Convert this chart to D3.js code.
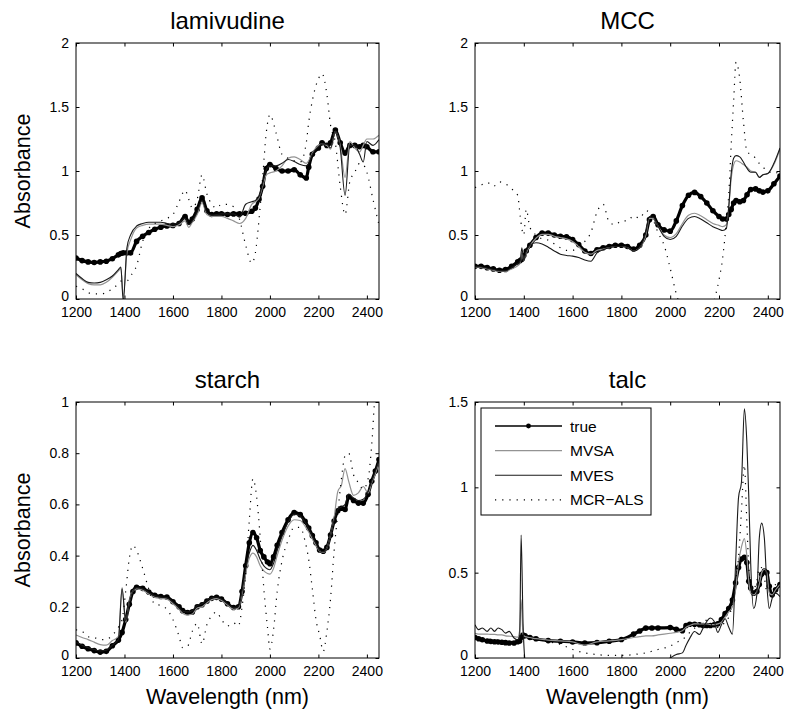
<!DOCTYPE html>
<html lang="en">
<head>
<meta charset="utf-8">
<title>spectra</title>
<script src="https://d3js.org/d3.v7.min.js"></script>
<style>
  * { margin:0; padding:0; }
  body { background:#fff; }
  svg { display:block; font-family:"Liberation Sans", Arial, Helvetica, sans-serif; }
</style>
</head>
<body>
<div id="fig"></div>
<script>
// ---- data ----
var xDomain = [1200, 2450];
var xTickVals = [1200,1400,1600,1800,2000,2200,2400];
var seriesNames = ["true","MVSA","MVES","MCR\u2212ALS"];

// lamivudine
var lamWl = [1200,1225,1250,1275,1300,1325,1350,1375,1385,1395,1410,1425,1450,1475,1500,1525,1550,1575,1600,1625,1650,1665,1680,1700,1720,1740,1760,1780,1800,1825,1850,1875,1900,1925,1940,1955,1970,1985,2000,2025,2050,2075,2100,2125,2150,2160,2175,2200,2215,2235,2250,2270,2290,2310,2330,2350,2370,2385,2400,2425,2450];
var lamTrue = [0.32,0.30,0.29,0.285,0.29, 0.295,0.315,0.345,0.355,0.36, 0.36,0.36,0.45,0.49,0.52, 0.545,0.56,0.57,0.575,0.59, 0.645,0.60,0.625,0.70,0.79, 0.69,0.66,0.665,0.665,0.66, 0.665,0.665,0.67,0.685,0.71, 0.78,0.88,1.02,1.05,1.02, 1.0,1.0,1.01,0.97,0.945, 1.03,1.13,1.18,1.22,1.2, 1.22,1.32,1.22,1.14,1.2, 1.2,1.19,1.2,1.19,1.15, 1.15];
var lamMVSA = [0.19,0.15,0.12,0.11,0.11, 0.13,0.17,0.22,0.24,0.02, 0.36,0.46,0.555,0.575,0.585, 0.585,0.585,0.575,0.565,0.58, 0.61,0.56,0.6,0.66,0.75, 0.66,0.645,0.645,0.645,0.63, 0.61,0.59,0.63,0.74,0.76, 0.79,0.88,0.97,0.985,1.0, 1.04,1.1,1.11,1.09,1.06, 1.08,1.14,1.2,1.21,1.2, 1.17,1.31,1.2,0.95,1.23, 1.18,1.15,1.2,1.25,1.25, 1.28];
var lamMVES = [0.2,0.16,0.13,0.125,0.13, 0.15,0.18,0.23,0.25,-0.02, 0.4,0.5,0.57,0.59,0.6, 0.6,0.6,0.59,0.585,0.595, 0.63,0.58,0.61,0.68,0.77, 0.675,0.655,0.66,0.665,0.665, 0.665,0.64,0.74,0.76,0.77, 0.8,0.9,1.01,1.04,1.04, 1.06,1.09,1.075,1.05,1.04, 1.06,1.13,1.19,1.21,1.21, 1.18,1.31,1.18,0.81,1.2, 1.2,1.13,1.07,1.23,1.2, 1.245];
var lamMCR = [0.1,0.08,0.05,0.04,0.04, 0.05,0.08,0.12,0.14,0.14, 0.14,0.18,0.26,0.45,0.55, 0.59,0.61,0.63,0.66,0.76, 0.85,0.78,0.71,0.78,0.97, 0.82,0.74,0.71,0.74,0.74, 0.72,0.62,0.42,0.28,0.36, 0.62,0.95,1.3,1.44,1.3, 1.13,1.1,1.08,1.07,1.22, 1.38,1.55,1.72,1.76,1.6, 1.36,1.22,0.88,0.66,0.92, 0.99,1.06,1.05,0.99,0.78, 0.58];

// MCC
var mccWl = [1200,1225,1250,1275,1300,1325,1350,1375,1385,1392,1400,1410,1425,1450,1475,1500,1525,1550,1575,1600,1625,1650,1675,1700,1725,1750,1775,1800,1825,1850,1875,1900,1915,1930,1950,1975,2000,2025,2050,2075,2100,2125,2150,2175,2200,2215,2230,2240,2250,2260,2270,2285,2300,2315,2330,2350,2365,2380,2400,2425,2450];
var mccTrue = [0.255,0.255,0.245,0.235,0.225, 0.23,0.255,0.29,0.3,0.31, 0.34,0.375,0.42,0.48,0.515, 0.515,0.5,0.49,0.485,0.465, 0.425,0.375,0.355,0.385,0.4, 0.41,0.42,0.42,0.41,0.39, 0.42,0.5,0.62,0.645,0.58, 0.54,0.53,0.61,0.73,0.81, 0.833,0.8,0.75,0.69,0.645, 0.625,0.625,0.66,0.7,0.75, 0.77,0.76,0.77,0.815,0.855, 0.86,0.845,0.835,0.845,0.9, 0.96];
var mccMVSA = [0.25,0.245,0.235,0.225,0.215, 0.215,0.235,0.26,0.28,0.36, 0.3,0.36,0.415,0.475,0.505, 0.505,0.49,0.48,0.47,0.45, 0.41,0.365,0.35,0.38,0.39, 0.4,0.41,0.41,0.4,0.375, 0.4,0.5,0.63,0.63,0.57, 0.5,0.48,0.51,0.59,0.655, 0.67,0.65,0.62,0.59,0.575, 0.565,0.58,0.72,0.94,1.05, 1.08,1.07,1.05,1.03,1.0, 0.99,0.95,0.97,0.98,1.05, 1.17];
var mccMVES = [0.255,0.25,0.24,0.23,0.22, 0.22,0.245,0.275,0.29,0.4, 0.3,0.37,0.42,0.44,0.43, 0.405,0.375,0.35,0.34,0.335, 0.325,0.305,0.295,0.36,0.385, 0.4,0.41,0.41,0.4,0.375, 0.4,0.52,0.645,0.64,0.57, 0.49,0.465,0.49,0.57,0.63, 0.645,0.625,0.595,0.565,0.545, 0.535,0.55,0.72,0.98,1.1, 1.12,1.11,1.07,1.02,0.99, 0.99,0.95,0.97,0.98,1.06, 1.18];
var mccMCR = [0.87,0.89,0.91,0.88,0.915, 0.9,0.86,0.81,0.65,0.55, 0.5,0.7,0.56,0.5,0.47, 0.46,0.43,0.4,0.38,0.38, 0.42,0.45,0.52,0.68,0.74, 0.6,0.58,0.61,0.61,0.65, 0.63,0.69,0.68,0.62,0.52, 0.42,0.24,0.04,-0.1,-0.2, -0.25,-0.25,-0.2,-0.05,0.15, 0.32,0.6,0.82,1.2,1.55, 1.85,1.72,1.39,1.15,1.13, 1.1,1.06,1.03,1.0,0.98, 1.0];

// starch
var stWl = [1200,1225,1250,1275,1300,1325,1350,1375,1390,1405,1420,1435,1450,1475,1500,1525,1550,1575,1600,1625,1640,1660,1680,1700,1720,1740,1760,1780,1800,1825,1850,1870,1885,1900,1915,1930,1945,1960,1975,1990,2000,2015,2030,2050,2075,2100,2125,2145,2160,2175,2190,2205,2220,2235,2250,2265,2280,2295,2310,2325,2345,2365,2385,2405,2420,2435,2450];
var stTrue = [0.059,0.046,0.036,0.029,0.023, 0.026,0.048,0.07,0.1,0.15, 0.21,0.26,0.276,0.272,0.258, 0.245,0.24,0.238,0.22,0.2, 0.185,0.178,0.18,0.2,0.208, 0.222,0.233,0.237,0.23,0.212, 0.197,0.2,0.26,0.36,0.45, 0.49,0.47,0.42,0.395,0.375, 0.368,0.395,0.44,0.49,0.54, 0.568,0.56,0.534,0.508,0.478, 0.45,0.422,0.417,0.432,0.48, 0.535,0.575,0.585,0.58,0.63, 0.615,0.605,0.605,0.64,0.69, 0.73,0.775];
var stMVSA = [0.09,0.08,0.072,0.062,0.052, 0.05,0.068,0.085,0.275,0.14, 0.22,0.262,0.27,0.265,0.25, 0.237,0.233,0.23,0.212,0.19, 0.175,0.168,0.172,0.195,0.2, 0.215,0.228,0.232,0.225,0.207, 0.19,0.195,0.25,0.33,0.39, 0.41,0.395,0.36,0.34,0.33, 0.328,0.35,0.4,0.46,0.515, 0.54,0.537,0.515,0.492,0.465, 0.44,0.418,0.413,0.43,0.48, 0.55,0.65,0.675,0.74,0.69, 0.635,0.645,0.67,0.645,0.685, 0.72,0.765];
var stMVES = [0.062,0.05,0.04,0.033,0.028, 0.03,0.05,0.072,0.27,0.145, 0.215,0.262,0.275,0.27,0.256, 0.243,0.238,0.236,0.218,0.197, 0.183,0.18,0.185,0.205,0.212, 0.225,0.235,0.238,0.23,0.212, 0.197,0.2,0.26,0.35,0.41, 0.44,0.42,0.385,0.36,0.348, 0.345,0.37,0.42,0.475,0.53, 0.562,0.555,0.53,0.505,0.475, 0.448,0.42,0.415,0.43,0.48, 0.54,0.58,0.59,0.6,0.64, 0.625,0.615,0.62,0.65,0.69, 0.73,0.77];
var stMCR = [0.11,0.104,0.083,0.08,0.072, 0.072,0.09,0.12,0.15,0.26, 0.39,0.44,0.42,0.35,0.27, 0.21,0.205,0.19,0.15,0.085, 0.04,0.045,0.105,0.135,0.055, 0.13,0.165,0.18,0.15,0.125, 0.137,0.125,0.2,0.33,0.54, 0.7,0.63,0.47,0.27,0.12, 0.035,0.11,0.26,0.38,0.46, 0.51,0.51,0.456,0.385,0.27, 0.15,0.09,0.026,0.104,0.23, 0.42,0.565,0.7,0.79,0.8, 0.716,0.685,0.66,0.7,0.833, 1.05,1.15];

// talc
var taWl = [1200,1215,1230,1250,1265,1280,1295,1310,1325,1340,1360,1375,1383,1389,1397,1405,1425,1450,1500,1550,1600,1650,1700,1750,1800,1850,1875,1900,1925,1950,2000,2025,2050,2065,2080,2100,2120,2135,2150,2165,2180,2195,2210,2225,2240,2255,2268,2280,2292,2304,2314,2322,2330,2342,2355,2365,2375,2386,2396,2406,2418,2432,2450];
var taTrue = [0.12,0.113,0.107,0.1,0.097, 0.095,0.094,0.092,0.09,0.088, 0.088,0.095,0.1,0.12,0.135, 0.13,0.12,0.113,0.102,0.098, 0.094,0.088,0.09,0.098,0.108, 0.14,0.158,0.175,0.176,0.176, 0.178,0.168,0.16,0.19,0.198, 0.198,0.195,0.19,0.19,0.19, 0.195,0.2,0.225,0.26,0.29, 0.34,0.44,0.53,0.58,0.59, 0.56,0.45,0.41,0.38,0.39, 0.43,0.49,0.51,0.5,0.42, 0.37,0.4,0.43];
var taMVSA = [0.145,0.14,0.14,0.14,0.138, 0.138,0.135,0.135,0.13,0.128, 0.125,0.122,0.16,0.34,0.14, 0.125,0.12,0.113,0.105,0.1, 0.094,0.075,0.095,0.1,0.108, 0.12,0.125,0.13,0.13,0.135, 0.145,0.15,0.16,0.18,0.19, 0.2,0.2,0.2,0.2,0.195, 0.195,0.2,0.21,0.24,0.27, 0.3,0.4,0.56,0.65,0.7, 0.6,0.45,0.38,0.37,0.39, 0.43,0.5,0.52,0.5,0.38, 0.37,0.4,0.43];
var taMVES = [0.195,0.166,0.176,0.156,0.176, 0.156,0.176,0.166,0.146,0.156, 0.117,0.107,0.12,0.72,0.2, -0.02,-0.15,-0.2,-0.2,-0.2, -0.2,-0.2,-0.2,-0.2,-0.2, -0.18,-0.15,-0.12,-0.08,-0.05, 0.0,0.02,0.03,0.075,0.115, 0.155,0.138,0.176,0.215,0.234, 0.215,0.15,0.195,0.23,0.18, 0.14,0.55,0.94,1.03,1.46, 1.27,0.95,0.55,0.29,0.37, 0.7,0.79,0.7,0.43,0.29, 0.35,0.38,0.36];
var taMCR = [0.12,0.118,0.115,0.112,0.11, 0.108,0.106,0.104,0.1,0.098, 0.096,0.1,0.11,0.12,0.12, 0.115,0.11,0.105,0.095,0.08, 0.05,0.03,0.02,0.015,0.015, 0.02,0.025,0.03,0.04,0.05, 0.07,0.09,0.11,0.125,0.15, 0.175,0.2,0.22,0.22,0.2, 0.18,0.18,0.19,0.21,0.24, 0.32,0.45,0.59,0.86,1.13, 0.8,0.53,0.43,0.41,0.45, 0.53,0.53,0.47,0.39,0.41, 0.42,0.43,0.45];

// ---- layout ----
var panels = [
  {title:"lamivudine", wl:lamWl, series:[lamTrue,lamMVSA,lamMVES,lamMCR], yMax:2,   yTicks:[0,0.5,1,1.5,2],       left:76,  top:43,  w:303, ylab:true,  xlab:false},
  {title:"MCC",        wl:mccWl, series:[mccTrue,mccMVSA,mccMVES,mccMCR], yMax:2,   yTicks:[0,0.5,1,1.5,2],       left:475, top:43,  w:305, ylab:false, xlab:false},
  {title:"starch",     wl:stWl,  series:[stTrue,stMVSA,stMVES,stMCR],     yMax:1,   yTicks:[0,0.2,0.4,0.6,0.8,1], left:76,  top:402, w:303, ylab:true,  xlab:true},
  {title:"talc",       wl:taWl,  series:[taTrue,taMVSA,taMVES,taMCR],     yMax:1.5, yTicks:[0,0.5,1,1.5],         left:475, top:402, w:305, ylab:false, xlab:true, legend:true}
];
var H = 256;

var styles = [
  {stroke:"#000",    width:3.2, dash:null},
  {stroke:"#939393", width:1.2, dash:null},
  {stroke:"#1a1a1a", width:1.1, dash:null},
  {stroke:"#000",    width:1.2, dash:"1.2,6"}
];

var svg = d3.select("#fig").append("svg")
  .attr("width", 788)
  .attr("height", 713);
var defs = svg.append("defs");

panels.forEach(function(p, pi) {
  var x = d3.scaleLinear().domain(xDomain).range([p.left, p.left + p.w]);
  var y = d3.scaleLinear().domain([0, p.yMax]).range([p.top + H, p.top]);

  defs.append("clipPath").attr("id", "clip" + pi)
    .append("rect")
    .attr("x", p.left).attr("y", p.top)
    .attr("width", p.w).attr("height", H);

  var g = svg.append("g");
  var plot = g.append("g").attr("clip-path", "url(#clip" + pi + ")");

  var line = d3.line()
    .x(function(d, i) { return x(p.wl[i]); })
    .y(function(d) { return y(d); })
    .curve(d3.curveMonotoneX);

  p.series.forEach(function(vals, si) {
    var s = styles[si];
    plot.append("path")
      .datum(vals)
      .attr("d", line)
      .attr("fill", "none")
      .attr("stroke", s.stroke)
      .attr("stroke-width", s.width)
      .attr("stroke-linejoin", "round")
      .attr("stroke-dasharray", s.dash);
    if (si == 0) {
      plot.selectAll("circle.mk")
        .data(vals)
        .join("circle")
        .attr("class", "mk")
        .attr("cx", function(d, i) { return x(p.wl[i]); })
        .attr("cy", function(d) { return y(d); })
        .attr("r", 2.8)
        .attr("fill", "#000");
    }
  });

  // axes, ticks pointing inward on all four sides
  var tickFont = 14;
  var ax = g.append("g").attr("transform", "translate(0," + (p.top + H) + ")")
    .call(d3.axisBottom(x).tickValues(xTickVals).tickSize(-3.5).tickPadding(8).tickFormat(d3.format("d")));
  var ay = g.append("g").attr("transform", "translate(" + p.left + ",0)")
    .call(d3.axisLeft(y).tickValues(p.yTicks).tickSize(-3.5).tickPadding(7).tickFormat(function(d) { return String(d); }));
  var axT = g.append("g").attr("transform", "translate(0," + p.top + ")")
    .call(d3.axisTop(x).tickValues(xTickVals).tickSize(-3.5).tickFormat(""));
  var ayR = g.append("g").attr("transform", "translate(" + (p.left + p.w) + ",0)")
    .call(d3.axisRight(y).tickValues(p.yTicks).tickSize(-3.5).tickFormat(""));
  [ax, ay, axT, ayR].forEach(function(a) {
    a.select(".domain").remove();
    a.selectAll("line").attr("stroke", "#000");
    a.selectAll("text").attr("fill", "#000").style("font-size", tickFont + "px")
      .style("font-family", "'Liberation Sans', Arial, sans-serif");
  });
  // lift the "0" label a touch so it clears the first x label
  ay.selectAll("text").filter(function(d) { return d == 0; }).attr("dy", "0.1em");

  g.append("rect")
    .attr("x", p.left).attr("y", p.top)
    .attr("width", p.w).attr("height", H)
    .attr("fill", "none").attr("stroke", "#000").attr("stroke-width", 1);

  g.append("text")
    .attr("x", p.left + p.w / 2)
    .attr("y", p.top - 14.5)
    .attr("text-anchor", "middle")
    .style("font-size", "24px")
    .text(p.title);

  if (p.ylab) {
    g.append("text")
      .attr("transform", "translate(30," + (p.top + H / 2) + ") rotate(-90)")
      .attr("text-anchor", "middle")
      .style("font-size", "21.5px")
      .text("Absorbance");
  }
  if (p.xlab) {
    g.append("text")
      .attr("x", p.left + p.w / 2)
      .attr("y", p.top + H + 46)
      .attr("text-anchor", "middle")
      .style("font-size", "21.5px")
      .text("Wavelength (nm)");
  }

  if (p.legend) {
    var lg = g.append("g");
    lg.append("rect")
      .attr("x", 481).attr("y", 408)
      .attr("width", 170).attr("height", 107)
      .attr("fill", "#fff").attr("stroke", "#000").attr("stroke-width", 1);
    seriesNames.forEach(function(name, si) {
      var s = styles[si];
      var ly = 426 + si * 24.6;
      lg.append("line")
        .attr("x1", 495).attr("x2", 562)
        .attr("y1", ly).attr("y2", ly)
        .attr("stroke", s.stroke)
        .attr("stroke-width", si == 0 ? 1.3 : s.width)
        .attr("stroke-dasharray", s.dash);
      if (si == 0) {
        lg.append("circle").attr("cx", 528.5).attr("cy", ly).attr("r", 2.4).attr("fill", "#000");
      }
      lg.append("text")
        .attr("x", 570).attr("y", ly)
        .attr("dy", "0.36em")
        .style("font-size", "15.5px")
        .text(name);
    });
  }
});
</script>
</body>
</html>
